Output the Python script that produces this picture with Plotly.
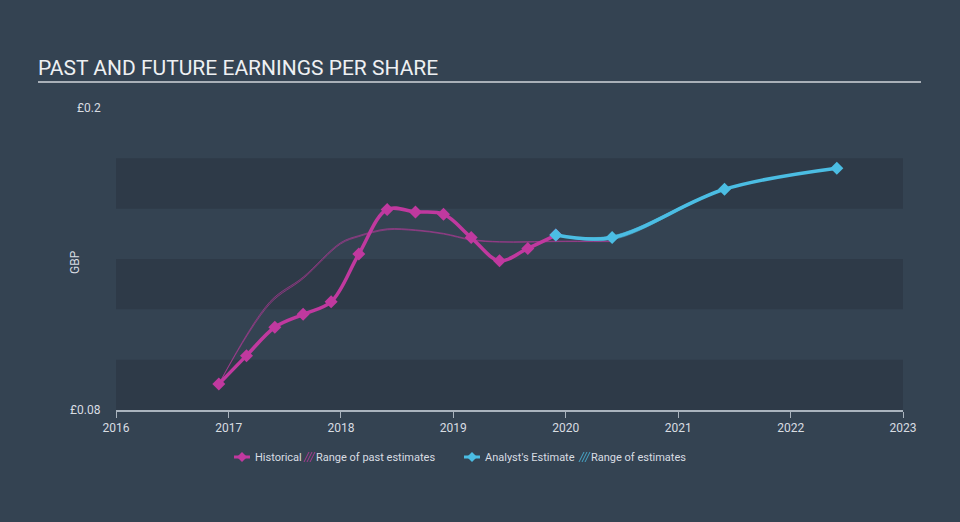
import plotly.graph_objects as go

# ---- data ----
hist_dates = ["2016-11-30", "2017-02-28", "2017-05-31", "2017-08-31", "2017-11-30",
              "2018-02-28", "2018-05-31", "2018-08-31", "2018-11-30", "2019-02-28",
              "2019-05-31", "2019-08-31", "2019-11-30"]
hist_eps = [0.0903, 0.1016, 0.1129, 0.1180, 0.1230, 0.1420, 0.1597, 0.1587, 0.1578,
            0.1485, 0.1393, 0.1442, 0.1495]

past_range_dates = ["2016-11-30", "2017-05-15", "2017-08-31", "2017-12-31", "2018-02-28",
                    "2018-05-31", "2018-08-31", "2018-11-30", "2019-02-28", "2019-05-31",
                    "2019-08-31", "2019-11-30", "2020-05-31"]
past_range_low = [0.0903, 0.1222, 0.1322, 0.1460, 0.1489, 0.1516, 0.1513, 0.1499, 0.1475,
                  0.1467, 0.1467, 0.1469, 0.1469]
past_range_high = [0.0903, 0.1230, 0.1328, 0.1465, 0.1493, 0.1520, 0.1516, 0.1502, 0.1478,
                   0.1469, 0.1469, 0.1471, 0.1471]

est_dates = ["2019-11-30", "2020-05-31", "2021-05-31", "2022-05-31"]
est_eps = [0.1495, 0.1485, 0.1677, 0.1761]
est_low = [0.1495, 0.1477, 0.1675, 0.1761]
est_high = [0.1495, 0.1492, 0.1679, 0.1761]

y_range = [0.08, 0.2]
x_range = ["2016-01-01", "2023-01-01"]
x_ticks = ["2016-01-01", "2017-01-01", "2018-01-01", "2019-01-01", "2020-01-01",
           "2021-01-01", "2022-01-01", "2023-01-01"]
x_tick_labels = ["2016", "2017", "2018", "2019", "2020", "2021", "2022", "2023"]
band_edges = [(0.08, 0.10), (0.12, 0.14), (0.16, 0.18)]

MAG = "#c0399f"
BLUE = "#4bbde3"
BG = "#344352"
BAND = "#2e3a48"
TXT = "#d8dde2"

fig = go.Figure()

# past range band
fig.add_trace(go.Scatter(x=past_range_dates, y=past_range_low, mode="lines",
                         line=dict(color="rgba(192,57,159,0.75)", width=0.7, shape="spline"),
                         hoverinfo="skip", showlegend=False))
fig.add_trace(go.Scatter(x=past_range_dates, y=past_range_high, mode="lines",
                         line=dict(color="rgba(192,57,159,0.75)", width=0.7, shape="spline"),
                         fill="tonexty", fillcolor="rgba(192,57,159,0.2)",
                         hoverinfo="skip", showlegend=False))
# analyst range band
fig.add_trace(go.Scatter(x=est_dates, y=est_low, mode="lines",
                         line=dict(color="rgba(75,189,227,0.6)", width=0.8, shape="spline"),
                         hoverinfo="skip", showlegend=False))
fig.add_trace(go.Scatter(x=est_dates, y=est_high, mode="lines",
                         line=dict(color="rgba(75,189,227,0.6)", width=0.8, shape="spline"),
                         fill="tonexty", fillcolor="rgba(75,189,227,0.4)",
                         hoverinfo="skip", showlegend=False))
# historical
fig.add_trace(go.Scatter(x=hist_dates, y=hist_eps, mode="lines+markers",
                         line=dict(color=MAG, width=3.5, shape="spline", smoothing=1.0),
                         marker=dict(symbol="diamond", size=10, color=MAG),
                         showlegend=False))
# analyst estimate
fig.add_trace(go.Scatter(x=est_dates, y=est_eps, mode="lines+markers",
                         line=dict(color=BLUE, width=3.5, shape="spline", smoothing=1.0),
                         marker=dict(symbol="diamond", size=10, color=BLUE),
                         showlegend=False))


def px2x(px):
    return (px - 116) / 787


def py2y(py):
    return (410 - py) / 302


shapes = []
for y0, y1 in band_edges:
    shapes.append(dict(type="rect", xref="paper", yref="y", x0=0, x1=1, y0=y0, y1=y1,
                       fillcolor=BAND, line=dict(width=0), layer="below"))
# title underline
shapes.append(dict(type="line", xref="paper", yref="paper",
                   x0=px2x(38), x1=px2x(921), y0=py2y(82), y1=py2y(82),
                   line=dict(color="#a9b0b8", width=2)))


def diamond_icon(cx, cy, color):
    out = [dict(type="line", xref="paper", yref="paper",
                x0=px2x(cx - 8), x1=px2x(cx + 8), y0=py2y(cy), y1=py2y(cy),
                line=dict(color=color, width=3))]
    out.append(dict(type="path", xref="paper", yref="paper",
                    path=f"M {px2x(cx)} {py2y(cy - 5)} L {px2x(cx + 5)} {py2y(cy)} "
                         f"L {px2x(cx)} {py2y(cy + 5)} L {px2x(cx - 5)} {py2y(cy)} Z",
                    fillcolor=color, line=dict(width=0)))
    return out


def hatch_icon(x0, cy, color):
    out = []
    for i in range(3):
        xs = x0 + i * 3
        out.append(dict(type="line", xref="paper", yref="paper",
                        x0=px2x(xs), x1=px2x(xs + 5), y0=py2y(cy + 5), y1=py2y(cy - 5),
                        line=dict(color=color, width=1)))
    return out


shapes += diamond_icon(242, 457, MAG)
shapes += hatch_icon(304, 457, "rgba(192,57,159,0.8)")
shapes += diamond_icon(472, 457, BLUE)
shapes += hatch_icon(579, 457, "rgba(75,189,227,0.8)")

annotations = [
    dict(text="PAST AND FUTURE EARNINGS PER SHARE", xref="paper", yref="paper",
         x=px2x(36), y=py2y(68), xanchor="left", yanchor="middle", showarrow=False,
         font=dict(family="Roboto", size=21, color="#eef0f2")),
    dict(text="GBP", xref="paper", yref="paper", x=px2x(75), y=py2y(262),
         textangle=-90, xanchor="center", yanchor="middle", showarrow=False,
         font=dict(family="Roboto", size=12, color=TXT)),
    dict(text="£0.2", xref="paper", yref="paper", x=px2x(103), y=py2y(108),
         xanchor="right", yanchor="middle", showarrow=False,
         font=dict(family="Roboto", size=12, color=TXT)),
    dict(text="£0.08", xref="paper", yref="paper", x=px2x(103), y=py2y(410),
         xanchor="right", yanchor="middle", showarrow=False,
         font=dict(family="Roboto", size=12, color=TXT)),
]
legend_texts = [("Historical", 253), ("Range of past estimates", 314),
                ("Analyst's Estimate", 483), ("Range of estimates", 589)]
for t, x in legend_texts:
    annotations.append(dict(text=t, xref="paper", yref="paper", x=px2x(x), y=py2y(457),
                            xanchor="left", yanchor="middle", showarrow=False,
                            font=dict(family="Roboto", size=11, color=TXT)))

fig.update_layout(
    width=960, height=522,
    margin=dict(l=116, r=57, t=108, b=112),
    paper_bgcolor=BG, plot_bgcolor=BG,
    shapes=shapes, annotations=annotations,
    showlegend=False,
    xaxis=dict(type="date", range=x_range, tickvals=x_ticks, ticktext=x_tick_labels,
               showgrid=False, zeroline=False, showline=True, linecolor="#aab4be",
               linewidth=1.5, ticks="outside", ticklen=6, tickcolor="#aab4be",
               tickfont=dict(family="Roboto", size=12, color=TXT)),
    yaxis=dict(range=y_range, showgrid=False, zeroline=False, showticklabels=False,
               showline=False, ticks=""),
)

fig.write_html("out.html",
               config={"displayModeBar": False},
               post_script="document.body.style.margin='0';"
                           "document.body.style.background='" + BG + "';")
